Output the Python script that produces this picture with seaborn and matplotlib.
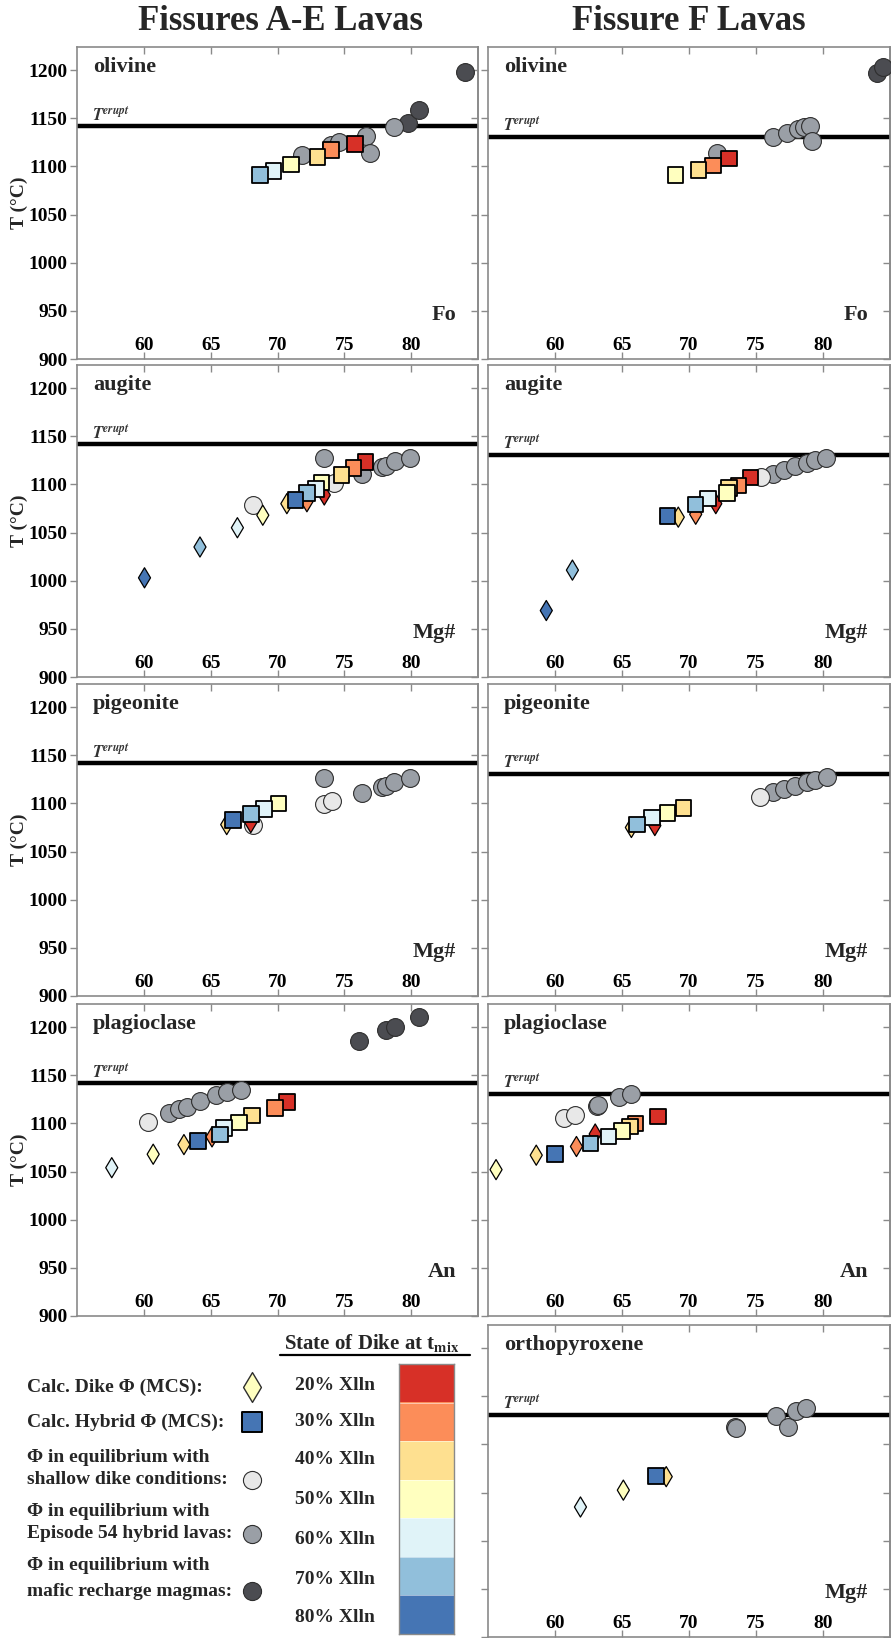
import matplotlib
matplotlib.use("Agg")
import numpy as np
import pandas as pd
import matplotlib.pyplot as plt
import seaborn as sns
from matplotlib.colors import ListedColormap

sns.set_theme(style="white")
plt.rcParams["font.family"] = ["Liberation Serif", "DejaVu Serif"]
plt.rcParams["font.weight"] = "bold"
plt.rcParams["mathtext.fontset"] = "stix"

# ---------------------------------------------------------------- data
XLLN_LEVELS = [20, 30, 40, 50, 60, 70, 80]
XLLN_COLORS = ["#d73027", "#fc8d59", "#fee090", "#ffffbf",
               "#e0f3f8", "#91bfdb", "#4575b4"]
XLLN_LABELS = ["20% Xlln", "30% Xlln", "40% Xlln", "50% Xlln",
               "60% Xlln", "70% Xlln", "80% Xlln"]

T_ERUPT_AE = 1142
T_ERUPT_F = 1131

X_TICKS = [60, 65, 70, 75, 80]
Y_TICKS = [900, 950, 1000, 1050, 1100, 1150, 1200]

# olivine, fissures A-E
OL_AE_HYB_X = [75.8, 74.0, 73.0, 71.0, 69.7, 68.7]
OL_AE_HYB_T = [1123, 1117, 1110, 1102, 1095, 1091]
OL_AE_HYB_XL = [20, 30, 40, 50, 60, 70]
OL_AE_EP54_X = [71.8, 74.0, 74.6, 76.6, 76.9, 78.7]
OL_AE_EP54_T = [1112, 1122, 1125, 1132, 1114, 1141]
OL_AE_MAFIC_X = [79.75, 80.6, 84.0]
OL_AE_MAFIC_T = [1145, 1159, 1198]

# olivine, fissure F
OL_F_HYB_X = [73.0, 71.8, 70.7, 69.0]
OL_F_HYB_T = [1108, 1101, 1096, 1091]
OL_F_HYB_XL = [20, 30, 40, 50]
OL_F_EP54_X = [72.1, 76.3, 77.3, 78.1, 78.6, 79.0, 79.2]
OL_F_EP54_T = [1114, 1131, 1135, 1139, 1141, 1142, 1126]
OL_F_MAFIC_X = [84.0, 84.5]
OL_F_MAFIC_T = [1197, 1203]

# augite, fissures A-E
AUG_AE_DIKE_X = [73.5, 72.2, 70.7, 68.9, 67.0, 64.2, 60.05]
AUG_AE_DIKE_T = [1089, 1082, 1080, 1068, 1055, 1035, 1003]
AUG_AE_DIKE_XL = [20, 30, 40, 50, 60, 70, 80]
AUG_AE_HYB_X = [76.6, 75.7, 74.8, 73.3, 72.9, 72.2, 71.35]
AUG_AE_HYB_T = [1123, 1117, 1110, 1102, 1095, 1091, 1084]
AUG_AE_HYB_XL = [20, 30, 40, 50, 60, 70, 80]
AUG_AE_SHAL_X = [68.2, 74.2]
AUG_AE_SHAL_T = [1079, 1101]
AUG_AE_EP54_X = [73.5, 76.3, 77.8, 78.1, 78.8, 79.9]
AUG_AE_EP54_T = [1127, 1111, 1118, 1119, 1124, 1127]

# augite, fissure F
AUG_F_DIKE_X = [72.0, 70.5, 69.2, 61.3, 59.35]
AUG_F_DIKE_T = [1080, 1069, 1066, 1011, 969]
AUG_F_DIKE_XL = [20, 30, 40, 70, 80]
AUG_F_HYB_X = [74.6, 73.7, 73.0, 72.85, 71.4, 70.5, 68.4]
AUG_F_HYB_T = [1107, 1099, 1096, 1091, 1085.5, 1079, 1067]
AUG_F_HYB_XL = [20, 30, 40, 50, 60, 70, 80]
AUG_F_SHAL_X = [75.4]
AUG_F_SHAL_T = [1108]
AUG_F_EP54_X = [76.3, 77.1, 77.9, 78.8, 79.4, 80.2]
AUG_F_EP54_T = [1111, 1115, 1119, 1122, 1125, 1127]

# pigeonite, fissures A-E
PIG_AE_DIKE_X = [68.0, 66.2]
PIG_AE_DIKE_T = [1080, 1078]
PIG_AE_DIKE_XL = [20, 40]
PIG_AE_HYB_X = [70.06, 69.0, 68.0, 66.66]
PIG_AE_HYB_T = [1100, 1094, 1089, 1083]
PIG_AE_HYB_XL = [50, 60, 70, 80]
PIG_AE_SHAL_X = [68.2, 73.5, 74.1]
PIG_AE_SHAL_T = [1078, 1099, 1102]
PIG_AE_EP54_X = [73.5, 76.35, 77.8, 78.1, 78.7, 79.9]
PIG_AE_EP54_T = [1126, 1111, 1117, 1118.5, 1122, 1126]

# pigeonite, fissure F
PIG_F_DIKE_X = [67.45, 65.7]
PIG_F_DIKE_T = [1077, 1075]
PIG_F_DIKE_XL = [20, 40]
PIG_F_HYB_X = [69.6, 68.4, 67.25, 66.1]
PIG_F_HYB_T = [1095, 1090, 1085.5, 1078]
PIG_F_HYB_XL = [40, 50, 60, 70]
PIG_F_SHAL_X = [75.3]
PIG_F_SHAL_T = [1107]
PIG_F_EP54_X = [76.3, 77.1, 77.9, 78.8, 79.4, 80.3]
PIG_F_EP54_T = [1111.5, 1115, 1118.5, 1122, 1124.5, 1127]

# plagioclase, fissures A-E
PLG_AE_DIKE_X = [65.1, 63.0, 60.7, 57.6]
PLG_AE_DIKE_T = [1086, 1078, 1068, 1054]
PLG_AE_DIKE_XL = [30, 40, 50, 60]
PLG_AE_HYB_X = [70.7, 69.8, 68.1, 67.1, 66.0, 65.7, 64.05]
PLG_AE_HYB_T = [1122, 1116, 1108, 1101, 1095, 1088.5, 1081.5]
PLG_AE_HYB_XL = [20, 30, 40, 50, 60, 70, 80]
PLG_AE_SHAL_X = [60.3]
PLG_AE_SHAL_T = [1101]
PLG_AE_EP54_X = [61.9, 62.6, 63.2, 64.2, 65.4, 66.2, 67.3]
PLG_AE_EP54_T = [1110.5, 1114.5, 1117, 1123, 1129, 1133, 1135]
PLG_AE_MAFIC_X = [76.1, 78.1, 78.8, 80.6]
PLG_AE_MAFIC_T = [1186, 1197, 1200.5, 1210.5]

# plagioclase, fissure F
PLG_F_DIKE_X = [63.0, 61.6, 58.6, 55.6]
PLG_F_DIKE_T = [1089, 1076, 1067, 1052]
PLG_F_DIKE_XL = [20, 30, 40, 50]
PLG_F_HYB_X = [67.7, 66.0, 65.6, 65.0, 64.0, 62.66, 60.0]
PLG_F_HYB_T = [1107, 1100, 1097, 1092, 1086.5, 1079, 1068]
PLG_F_HYB_XL = [20, 30, 40, 50, 60, 70, 80]
PLG_F_SHAL_X = [60.7, 61.5]
PLG_F_SHAL_T = [1106, 1109]
PLG_F_EP54_X = [63.1, 63.2, 64.8, 65.7]
PLG_F_EP54_T = [1118, 1119, 1127, 1131]

# orthopyroxene, fissure F
OPX_F_DIKE_X = [68.3, 65.1, 61.9]
OPX_F_DIKE_T = [1066.5, 1052.5, 1035]
OPX_F_DIKE_XL = [40, 50, 60]
OPX_F_HYB_X = [67.55]
OPX_F_HYB_T = [1067.5]
OPX_F_HYB_XL = [80]
OPX_F_EP54_X = [73.4, 73.5, 76.5, 77.4, 78.0, 78.7]
OPX_F_EP54_T = [1118, 1117, 1129, 1118, 1134.5, 1138]

# ---------------------------------------------------------------- styling
SHAL_COLOR = "#e8e8e8"
EP54_COLOR = "#9a9fa6"
MAFIC_COLOR = "#4b4c51"
FRAME = "#8a8a8a"
XL_PAL = dict(zip(XLLN_LEVELS, XLLN_COLORS))
BOLD = "bold"

PANELS = [
    dict(r=0, c=0, name="olivine", comp="Fo", te=T_ERUPT_AE,
         hyb=(OL_AE_HYB_X, OL_AE_HYB_T, OL_AE_HYB_XL),
         ep54=(OL_AE_EP54_X, OL_AE_EP54_T), mafic=(OL_AE_MAFIC_X, OL_AE_MAFIC_T)),
    dict(r=0, c=1, name="olivine", comp="Fo", te=T_ERUPT_F,
         hyb=(OL_F_HYB_X, OL_F_HYB_T, OL_F_HYB_XL),
         ep54=(OL_F_EP54_X, OL_F_EP54_T), mafic=(OL_F_MAFIC_X, OL_F_MAFIC_T)),
    dict(r=1, c=0, name="augite", comp="Mg#", te=T_ERUPT_AE,
         dike=(AUG_AE_DIKE_X, AUG_AE_DIKE_T, AUG_AE_DIKE_XL),
         hyb=(AUG_AE_HYB_X, AUG_AE_HYB_T, AUG_AE_HYB_XL),
         shal=(AUG_AE_SHAL_X, AUG_AE_SHAL_T), ep54=(AUG_AE_EP54_X, AUG_AE_EP54_T)),
    dict(r=1, c=1, name="augite", comp="Mg#", te=T_ERUPT_F,
         dike=(AUG_F_DIKE_X, AUG_F_DIKE_T, AUG_F_DIKE_XL),
         hyb=(AUG_F_HYB_X, AUG_F_HYB_T, AUG_F_HYB_XL),
         shal=(AUG_F_SHAL_X, AUG_F_SHAL_T), ep54=(AUG_F_EP54_X, AUG_F_EP54_T)),
    dict(r=2, c=0, name="pigeonite", comp="Mg#", te=T_ERUPT_AE,
         dike=(PIG_AE_DIKE_X, PIG_AE_DIKE_T, PIG_AE_DIKE_XL),
         hyb=(PIG_AE_HYB_X, PIG_AE_HYB_T, PIG_AE_HYB_XL),
         shal=(PIG_AE_SHAL_X, PIG_AE_SHAL_T), ep54=(PIG_AE_EP54_X, PIG_AE_EP54_T)),
    dict(r=2, c=1, name="pigeonite", comp="Mg#", te=T_ERUPT_F,
         dike=(PIG_F_DIKE_X, PIG_F_DIKE_T, PIG_F_DIKE_XL),
         hyb=(PIG_F_HYB_X, PIG_F_HYB_T, PIG_F_HYB_XL),
         shal=(PIG_F_SHAL_X, PIG_F_SHAL_T), ep54=(PIG_F_EP54_X, PIG_F_EP54_T)),
    dict(r=3, c=0, name="plagioclase", comp="An", te=T_ERUPT_AE,
         dike=(PLG_AE_DIKE_X, PLG_AE_DIKE_T, PLG_AE_DIKE_XL),
         hyb=(PLG_AE_HYB_X, PLG_AE_HYB_T, PLG_AE_HYB_XL),
         shal=(PLG_AE_SHAL_X, PLG_AE_SHAL_T), ep54=(PLG_AE_EP54_X, PLG_AE_EP54_T),
         mafic=(PLG_AE_MAFIC_X, PLG_AE_MAFIC_T)),
    dict(r=3, c=1, name="plagioclase", comp="An", te=T_ERUPT_F,
         dike=(PLG_F_DIKE_X, PLG_F_DIKE_T, PLG_F_DIKE_XL),
         hyb=(PLG_F_HYB_X, PLG_F_HYB_T, PLG_F_HYB_XL),
         shal=(PLG_F_SHAL_X, PLG_F_SHAL_T), ep54=(PLG_F_EP54_X, PLG_F_EP54_T)),
    dict(r=4, c=1, name="orthopyroxene", comp="Mg#", te=T_ERUPT_F,
         dike=(OPX_F_DIKE_X, OPX_F_DIKE_T, OPX_F_DIKE_XL),
         hyb=(OPX_F_HYB_X, OPX_F_HYB_T, OPX_F_HYB_XL),
         ep54=(OPX_F_EP54_X, OPX_F_EP54_T)),
]

# figure layout in pixels
W, H = 893, 1638
ROW_TOPS = [47, 365, 684, 1004, 1325]
PANEL_H = 312
COL_LEFT = [77, 488]
COL_W = [401, 402]


def px_axes(fig, x0, y0, w, h):
    return fig.add_axes([x0 / W, 1 - (y0 + h) / H, w / W, h / H])


def plain_points(ax, pts, color, z):
    df = pd.DataFrame({"x": pts[0], "T": pts[1]})
    sns.scatterplot(data=df, x="x", y="T", color=color, marker="o", s=165,
                    edgecolor="#2e2e2e", linewidth=0.8, legend=False, ax=ax,
                    zorder=z)


def level_points(ax, pts, marker, s, lw, z):
    df = pd.DataFrame({"x": pts[0], "T": pts[1], "xl": pts[2]})
    sns.scatterplot(data=df, x="x", y="T", hue="xl", palette=XL_PAL,
                    hue_order=XLLN_LEVELS, marker=marker, s=s,
                    edgecolor="black", linewidth=lw, legend=False, ax=ax,
                    zorder=z)


fig = plt.figure(figsize=(W / 100, H / 100), dpi=100)

for p in PANELS:
    ax = px_axes(fig, COL_LEFT[p["c"]], ROW_TOPS[p["r"]], COL_W[p["c"]], PANEL_H)
    ax.axhline(p["te"], color="black", lw=3.2, zorder=2)
    ax.text(56.1, p["te"] + 1.5, r"$\mathregular{\mathit{T}}^{\mathit{erupt}}$",
            fontsize=12, fontweight="normal", ha="left", va="bottom",
            color="#333333")
    if "mafic" in p:
        plain_points(ax, p["mafic"], MAFIC_COLOR, 3)
    if "ep54" in p:
        plain_points(ax, p["ep54"], EP54_COLOR, 3)
    if "shal" in p:
        plain_points(ax, p["shal"], SHAL_COLOR, 3)
    if "dike" in p:
        level_points(ax, p["dike"], "d", 105, 0.9, 4)
    if "hyb" in p:
        level_points(ax, p["hyb"], "s", 125, 1.3, 5)

    ax.set_xlim(55, 85)
    ax.set_ylim(900, 1224)
    ax.set_xticks(X_TICKS)
    ax.set_yticks(Y_TICKS)
    ax.set_xlabel("")
    ax.set_ylabel("")
    ax.grid(False)
    for sp in ax.spines.values():
        sp.set_color(FRAME)
        sp.set_linewidth(1.2)
    ax.tick_params(axis="x", direction="in", top=True, bottom=True, length=5,
                   width=1, color=FRAME, pad=-16, labelsize=14, labelcolor="black")
    ax.tick_params(axis="y", direction="out", left=True, length=5, width=1,
                   color=FRAME, labelsize=14, labelcolor="black", pad=2)
    for lbl in ax.get_xticklabels() + ax.get_yticklabels():
        lbl.set_fontweight(BOLD)
    sec = ax.secondary_yaxis("right")
    sec.set_yticks(Y_TICKS)
    sec.tick_params(axis="y", direction="in", length=5, width=1, color=FRAME,
                    labelright=False)
    sec.spines["right"].set_color(FRAME)
    sec.spines["right"].set_linewidth(1.2)
    if p["c"] == 0:
        ax.set_ylabel("T (°C)", fontsize=14, fontweight=BOLD, labelpad=0)
    else:
        ax.tick_params(axis="y", labelleft=False)

    ax.text(0.04, 0.935, p["name"], transform=ax.transAxes, fontsize=16,
            fontweight=BOLD, ha="left", va="center")
    ax.text(0.945, 0.14, p["comp"], transform=ax.transAxes, fontsize=16,
            fontweight=BOLD, ha="right", va="center")

fig.text(280 / W, 1 - 22 / H, "Fissures A-E Lavas", fontsize=25,
         fontweight=BOLD, ha="center", va="center")
fig.text(689 / W, 1 - 22 / H, "Fissure F Lavas", fontsize=25,
         fontweight=BOLD, ha="center", va="center")

# ---------------------------------------------------------------- legend block
leg = px_axes(fig, 0, 1320, 478, H - 1320)
leg.set_xlim(0, 478)
leg.set_ylim(H, 1320)
leg.axis("off")

LEG_FS = 14
LEG_LINES = [
    ("Calc. Dike Φ (MCS):", 1387),
    ("Calc. Hybrid Φ (MCS):", 1422),
    ("Φ in equilibrium with", 1457),
    ("shallow dike conditions:", 1480),
    ("Φ in equilibrium with", 1511),
    ("Episode 54 hybrid lavas:", 1534),
    ("Φ in equilibrium with", 1566),
    ("mafic recharge magmas:", 1591),
]
for txt, yy in LEG_LINES:
    leg.text(27, yy, txt, fontsize=LEG_FS, fontweight=BOLD, va="center")

leg.scatter([252], [1387], marker="d", s=230, color="#ffffbf",
            edgecolor="#2e2e2e", linewidth=1.0)
leg.scatter([252], [1422], marker="s", s=190, color="#4575b4",
            edgecolor="black", linewidth=1.4)
leg.scatter([252], [1480], marker="o", s=170, color=SHAL_COLOR,
            edgecolor="#2e2e2e", linewidth=0.8)
leg.scatter([252], [1534], marker="o", s=170, color=EP54_COLOR,
            edgecolor="#2e2e2e", linewidth=0.8)
leg.scatter([252], [1591], marker="o", s=170, color=MAFIC_COLOR,
            edgecolor="#2e2e2e", linewidth=0.8)

leg.text(284, 1343, r"State of Dike at t$_{\mathbf{mix}}$", fontsize=15,
         fontweight=BOLD, va="center", ha="left")
leg.plot([280, 470], [1355, 1355], color="black", lw=1.6, clip_on=False)

for lab, yy in zip(XLLN_LABELS, [1385, 1422, 1460, 1499, 1539, 1579, 1618]):
    leg.text(295, yy, lab, fontsize=LEG_FS, fontweight=BOLD,
             va="center", ha="left")

cb = px_axes(fig, 399, 1364, 55, 270)
cb.imshow(np.arange(len(XLLN_LEVELS)).reshape(-1, 1),
          cmap=ListedColormap(XLLN_COLORS), aspect="auto",
          interpolation="nearest")
for k in range(1, len(XLLN_LEVELS)):
    cb.axhline(k - 0.5, color="white", lw=0.6, alpha=0.6)
cb.set_xticks([])
cb.set_yticks([])
for sp in cb.spines.values():
    sp.set_color(FRAME)
    sp.set_linewidth(1.0)

fig.savefig("out.png", dpi=100)
